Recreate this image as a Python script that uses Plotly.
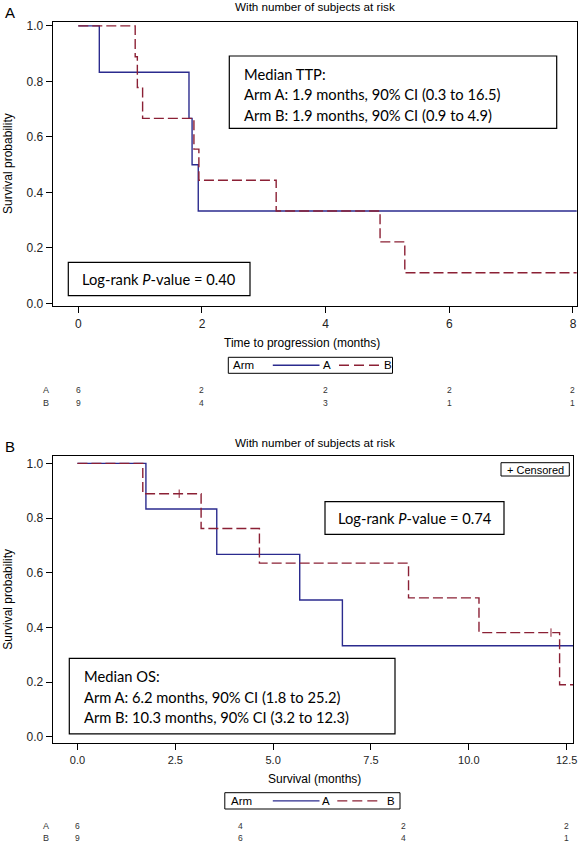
import plotly.graph_objects as go

W, H = 578, 842

# ---------------- Data ----------------
# Panel A: time to progression (months)
ttp_a_time = [0, 0.34, 1.79, 1.84, 1.94, 9.0]
ttp_a_surv = [1.0, 0.833, 0.667, 0.5, 0.333, 0.333]
ttp_b_time = [0, 0.92, 0.955, 1.04, 1.87, 1.95, 3.2, 4.88, 5.28, 9.0]
ttp_b_surv = [1.0, 0.889, 0.778, 0.667, 0.556, 0.444, 0.333, 0.222, 0.111, 0.111]
ttp_risk_times = [0, 2, 4, 6, 8]
ttp_risk_a = [6, 2, 2, 2, 2]
ttp_risk_b = [9, 4, 3, 1, 1]
ttp_xticks = [0, 2, 4, 6, 8]

# Panel B: overall survival (months)
os_a_time = [0, 1.75, 3.56, 5.68, 6.77, 14.0]
os_a_surv = [1.0, 0.833, 0.667, 0.5, 0.333, 0.333]
os_b_time = [0, 1.67, 3.16, 4.65, 8.46, 10.26, 12.32, 14.0]
os_b_surv = [1.0, 0.889, 0.762, 0.635, 0.508, 0.381, 0.190, 0.190]
os_b_cens_time = [2.6, 12.1]
os_b_cens_surv = [0.889, 0.381]
os_risk_times = [0, 4.1667, 8.3333, 12.5]
os_risk_a = [6, 4, 2, 2]
os_risk_b = [9, 6, 4, 1]
os_xticks = [0, 2.5, 5.0, 7.5, 10.0, 12.5]

yticks = [0.0, 0.2, 0.4, 0.6, 0.8, 1.0]

BLUE = "#2B2B8E"
RED = "#8B2035"
DASH = "10px,4px"
SANS = "Liberation Sans, Arial, sans-serif"
CAL = "Lato, Carlito, Calibri, sans-serif"
BOXFONT = 14.7

def px(x):
    return x / W

def py(y):
    return 1 - y / H

fig = go.Figure()

# Panel A curves
fig.add_trace(go.Scatter(x=ttp_a_time, y=ttp_a_surv, mode="lines", line_shape="hv",
                         line=dict(color=BLUE, width=1.4), name="A",
                         xaxis="x", yaxis="y", showlegend=False))
fig.add_trace(go.Scatter(x=ttp_b_time, y=ttp_b_surv, mode="lines", line_shape="hv",
                         line=dict(color=RED, width=1.4, dash=DASH), name="B",
                         xaxis="x", yaxis="y", showlegend=False))
# Panel B curves
fig.add_trace(go.Scatter(x=os_a_time, y=os_a_surv, mode="lines", line_shape="hv",
                         line=dict(color=BLUE, width=1.4), name="A",
                         xaxis="x2", yaxis="y2", showlegend=False))
fig.add_trace(go.Scatter(x=os_b_time, y=os_b_surv, mode="lines", line_shape="hv",
                         line=dict(color=RED, width=1.4, dash=DASH), name="B",
                         xaxis="x2", yaxis="y2", showlegend=False))
fig.add_trace(go.Scatter(x=os_b_cens_time, y=os_b_cens_surv, mode="markers",
                         marker=dict(symbol="line-ns", size=6, color=RED,
                                     line=dict(color=RED, width=1)),
                         name="Censored", showlegend=False, xaxis="x2", yaxis="y2"))

axis_common = dict(showline=True, mirror=True, linecolor="black", linewidth=1.3,
                   ticks="outside", ticklen=6, tickcolor="black", tickwidth=1,
                   showgrid=False, zeroline=False,
                   tickfont=dict(family=SANS, size=12, color="#222"))

# Plot areas (pixel measurements)
A_left, A_right, A_top, A_bot = 52.7, 576.7, 22, 306
B_left, B_right, B_top, B_bot = 52.7, 573.3, 456, 743.3

fig.update_layout(
    width=W, height=H, margin=dict(l=0, r=0, t=0, b=0, autoexpand=False),
    paper_bgcolor="white", plot_bgcolor="white", showlegend=False,
    xaxis=dict(axis_common, domain=[px(A_left), px(A_right)], range=[-0.414, 8.06],
               tickvals=ttp_xticks, anchor="y"),
    yaxis=dict(axis_common, domain=[py(A_bot), py(A_top)], range=[-0.009, 1.014],
               tickvals=yticks, tickformat=".1f", anchor="x"),
    xaxis2=dict(axis_common, domain=[px(B_left), px(B_right)], range=[-0.632, 12.67],
                tickvals=os_xticks, tickformat=".1f", anchor="y2",
                tickfont=dict(family=SANS, size=11, color="#222")),
    yaxis2=dict(axis_common, domain=[py(B_bot), py(B_top)], range=[-0.024, 1.027],
                tickvals=yticks, tickformat=".1f", anchor="x2"),
)

ann = []
shapes = []

def text(x, y, s, size=11, family=SANS, xanchor="center", angle=0, color="black"):
    ann.append(dict(x=px(x), y=py(y), xref="paper", yref="paper", text=s, showarrow=False,
                    xanchor=xanchor, yanchor="middle", textangle=angle,
                    font=dict(family=family, size=size, color=color)))

def box(x0, y0, x1, y1, width=1.2):
    shapes.append(dict(type="rect", xref="paper", yref="paper", x0=px(x0), x1=px(x1),
                       y0=py(y1), y1=py(y0), line=dict(color="black", width=width),
                       fillcolor="rgba(0,0,0,0)"))

def seg(x0, x1, y, color, dash=None):
    shapes.append(dict(type="line", xref="paper", yref="paper", x0=px(x0), x1=px(x1),
                       y0=py(y), y1=py(y), line=dict(color=color, width=1.4, dash=dash)))

# Panel letters and titles
text(10, 12.5, "A", size=15)
text(9.5, 446.5, "B", size=15)
text(315, 6, "With number of subjects at risk", size=11.7)
text(315, 442.3, "With number of subjects at risk", size=11.7)

# Axis titles
text(8, (A_top + A_bot) / 2, "Survival probability", size=12, angle=-90)
text(8, (B_top + B_bot) / 2, "Survival probability", size=12, angle=-90)
text(302, 343.3, "Time to progression (months)", size=12)
text(314, 779.3, "Survival (months)", size=12)

# Legends (Arm: A solid, B dashed)
def legend(x0, x1, y0, y1, arm_x, a_line, a_x, b_line, b_x):
    box(x0, y0, x1, y1, width=1)
    yc = (y0 + y1) / 2
    text(arm_x, yc, "Arm", size=11.5, xanchor="left")
    seg(a_line[0], a_line[1], yc, BLUE)
    text(a_x, yc, "A", size=11.5)
    seg(b_line[0], b_line[1], yc, RED, dash="10px,5px")
    text(b_x, yc, "B", size=11.5)

legend(228.3, 392.5, 357.3, 373.3, 231.5, (272.8, 319.5), 327, (339, 380), 387.5)
legend(224.8, 400, 792.7, 809, 228.5, (272.8, 319.5), 326, (337.3, 379.7), 391)

# Panel A boxes
box(229.3, 56, 556.7, 128.3)
text(242.3, 73.5, "Median TTP:", size=BOXFONT, family=CAL, xanchor="left")
text(242.3, 94, "Arm A: 1.9 months, 90% CI (0.3 to 16.5)", size=BOXFONT, family=CAL, xanchor="left")
text(242.3, 114.5, "Arm B: 1.9 months, 90% CI (0.9 to 4.9)", size=BOXFONT, family=CAL, xanchor="left")
box(68.3, 262.3, 250, 295.7)
text(159, 279, "Log-rank <i>P</i>-value = 0.40", size=BOXFONT, family=CAL)

# Panel B boxes
box(501, 462.7, 569.3, 476, width=1)
text(535.2, 469.5, "+ Censored", size=11)
box(325, 501.7, 504, 534.3)
text(414.5, 518, "Log-rank <i>P</i>-value = 0.74", size=BOXFONT, family=CAL)
box(69.3, 658.3, 395, 733.9)
text(82.3, 676, "Median OS:", size=BOXFONT, family=CAL, xanchor="left")
text(82.3, 696.5, "Arm A: 6.2 months, 90% CI (1.8 to 25.2)", size=BOXFONT, family=CAL, xanchor="left")
text(82.3, 717, "Arm B: 10.3 months, 90% CI (3.2 to 12.3)", size=BOXFONT, family=CAL, xanchor="left")

# Risk tables
def risk_row(times, vals, xref, y, label):
    text(45.7, y, label, size=9, color="#333")
    for t, v in zip(times, vals):
        ann.append(dict(x=t, y=py(y), xref=xref, yref="paper", text=str(v), showarrow=False,
                        xanchor="center", yanchor="middle",
                        font=dict(family=SANS, size=8.5, color="#333")))

risk_row(ttp_risk_times, ttp_risk_a, "x", 390, "A")
risk_row(ttp_risk_times, ttp_risk_b, "x", 403.3, "B")
risk_row(os_risk_times, os_risk_a, "x2", 826, "A")
risk_row(os_risk_times, os_risk_b, "x2", 838.3, "B")

fig.update_layout(annotations=ann, shapes=shapes)

fig.write_html("out.html", config={"displayModeBar": False},
               post_script="document.body.style.margin='0px';document.body.style.overflow='hidden';")
